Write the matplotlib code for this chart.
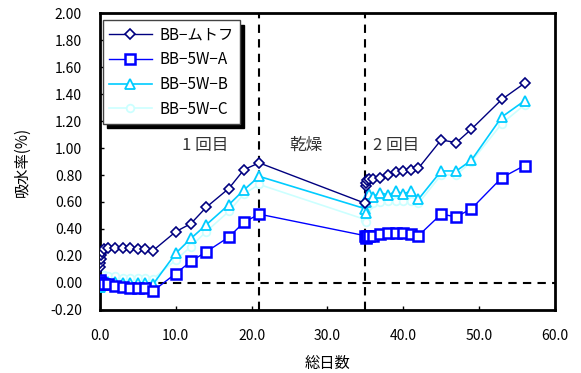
import matplotlib
matplotlib.use("Agg")
import matplotlib.pyplot as plt
from matplotlib.ticker import MultipleLocator, FormatStrFormatter

plt.rcParams['font.family'] = ['Noto Sans CJK JP', 'DejaVu Sans']
plt.rcParams['axes.unicode_minus'] = True

# measurement days (shared by all series)
days = [0, 0.04, 0.08, 0.17, 0.25, 0.5,
        1, 2, 3, 4, 5, 6, 7,
        10, 12, 14, 17, 19, 21,
        35,
        35.04, 35.08, 35.17, 35.5,
        36, 37, 38, 39, 40, 41, 42,
        45, 47, 49, 53, 56]

bb_mutofu = [0.12, 0.15, 0.18, 0.21, 0.23, 0.25,
             0.26, 0.26, 0.26, 0.26, 0.25, 0.25, 0.24,
             0.38, 0.44, 0.56, 0.70, 0.84, 0.89,
             0.59,
             0.72, 0.74, 0.76, 0.77,
             0.77, 0.78, 0.80, 0.82, 0.83, 0.84, 0.85,
             1.06, 1.04, 1.14, 1.36, 1.48]

bb_5w_a = [0.02, 0.01, 0.00, -0.01, -0.01, -0.01,
           -0.01, -0.02, -0.03, -0.04, -0.04, -0.04, -0.06,
           0.07, 0.16, 0.23, 0.34, 0.45, 0.51,
           0.35,
           0.33, 0.34, 0.35, 0.35,
           0.35, 0.36, 0.37, 0.37, 0.37, 0.36, 0.35,
           0.51, 0.49, 0.55, 0.78, 0.87]

bb_5w_b = [-0.03, -0.02, -0.01, 0.00, 0.01, 0.01,
           0.01, 0.01, 0.00, 0.00, 0.00, 0.00, -0.01,
           0.22, 0.33, 0.43, 0.58, 0.69, 0.79,
           0.55,
           0.52, 0.60, 0.64, 0.66,
           0.64, 0.67, 0.65, 0.68, 0.66, 0.68, 0.62,
           0.83, 0.83, 0.91, 1.23, 1.35]

bb_5w_c = [0.04, 0.05, 0.06, 0.06, 0.06, 0.06,
           0.05, 0.05, 0.04, 0.04, 0.04, 0.04, 0.03,
           0.17, 0.27, 0.38, 0.53, 0.66, 0.73,
           0.47,
           0.45, 0.52, 0.56, 0.58,
           0.59, 0.60, 0.61, 0.61, 0.61, 0.61, 0.59,
           0.80, 0.80, 0.90, 1.18, 1.32]

labels = ["BB−ムトフ", "BB−5W−A", "BB−5W−B", "BB−5W−C"]
phase_x = [21, 35]
phase_text = [(10.8, 1.02, "1 回目"), (25.0, 1.02, "乾燥"), (36.0, 1.02, "2 回目")]

fig = plt.figure(figsize=(5.81, 3.73), dpi=100)
ax = fig.add_axes([0.172, 0.169, 0.783, 0.796])

# reference lines
ax.axhline(0, color="black", lw=1.5, ls=(0, (4, 3)), zorder=1)
for xv in phase_x:
    ax.axvline(xv, color="black", lw=1.5, ls=(0, (4, 3)), zorder=1)

ax.plot(days, bb_mutofu, color="#000080", lw=1, marker="D", ms=5.5,
        mfc="white", mec="#000080", mew=1.2, label=labels[0], zorder=5)
ax.plot(days, bb_5w_a, color="#0000FF", lw=1, marker="s", ms=6.5,
        mfc="white", mec="#0000FF", mew=1.8, label=labels[1], zorder=4)
ax.plot(days, bb_5w_b, color="#00CCFF", lw=1.2, marker="^", ms=7,
        mfc="white", mec="#00CCFF", mew=1.3, label=labels[2], zorder=3)
ax.plot(days, bb_5w_c, color="#CCFFFF", lw=1.2, marker="o", ms=5.5,
        mfc="white", mec="#CCFFFF", mew=1.3, label=labels[3], zorder=2)

for x, y, t in phase_text:
    ax.text(x, y, t, fontsize=12, color="#333333", va="center", ha="left")

ax.set_xlim(0, 60)
ax.set_ylim(-0.2, 2.0)
ax.xaxis.set_major_locator(MultipleLocator(10))
ax.yaxis.set_major_locator(MultipleLocator(0.2))
ax.xaxis.set_major_formatter(FormatStrFormatter("%.1f"))
ax.yaxis.set_major_formatter(FormatStrFormatter("%.2f"))
ax.tick_params(direction="in", length=3, width=1, labelsize=10)
ax.tick_params(axis="x", pad=14)
ax.tick_params(axis="y", pad=13)
for s in ax.spines.values():
    s.set_linewidth(2)

ax.set_xlabel("総日数", fontsize=11, labelpad=8)
ax.set_ylabel("吸水率(%)", fontsize=11, labelpad=14)

leg = ax.legend(loc="upper left", bbox_to_anchor=(0.006, 0.975), borderaxespad=0,
                fontsize=11, frameon=True, fancybox=False, labelspacing=0.5,
                handlelength=2.8, handletextpad=0.5, borderpad=0.4,
                shadow={"ox": 3, "oy": -3, "color": "black", "alpha": 1})
leg.get_frame().set_edgecolor("#444444")
leg.get_frame().set_linewidth(1)

fig.savefig("out.png", dpi=100)
